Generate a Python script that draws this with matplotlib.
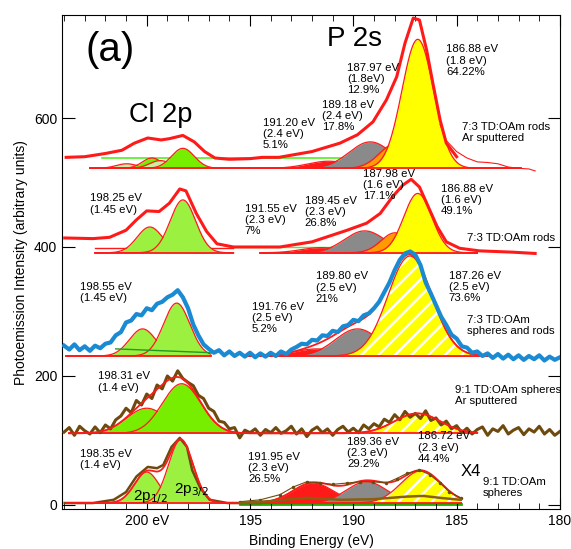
import numpy as np
import matplotlib.pyplot as plt
from matplotlib.ticker import MultipleLocator, FixedLocator

plt.rcParams['font.family'] = ['Liberation Sans', 'DejaVu Sans']
plt.rcParams['hatch.linewidth'] = 1.8

# measured spectra: binding energy (eV) / intensity (arb. units)
# 7:3 TD:OAm rods, Ar sputtered
e_rods_ar = [203.9, 203.0, 202.0, 201.2, 200.6, 199.95, 199.3, 198.9, 198.25, 197.7, 197.2,
             196.7, 196.0, 195.0, 194.4, 193.6, 192.0, 190.65, 189.8, 189.05, 188.4, 187.9,
             187.5, 187.1, 186.8, 186.45, 186.15, 185.8, 185.5, 185.0]
i_rods_ar = [539, 540, 545, 550, 561, 569, 566, 568, 573, 563, 548,
             538, 536, 537, 539, 539, 548, 561, 574, 594, 628, 664,
             716, 755, 752, 705, 654, 597, 561, 540]
e_rods_ar_tail = [185.8, 185.5, 185.0, 184.5, 184.0, 183.5, 183.0, 182.5, 182.0, 181.5, 181.2]
i_rods_ar_tail = [590, 565, 548, 538, 532, 531, 529, 524, 522, 521, 518]

# 7:3 TD:OAm rods
e_rods = [203.97, 202.6, 201.8, 201.0, 200.5, 200.0, 199.4, 198.9, 198.4, 198.1, 197.6, 197.1,
          196.6, 195.8, 194.5, 193.55, 192.0, 190.3, 189.35, 188.7, 188.1, 187.6, 187.2, 186.8,
          186.45, 185.95, 185.5, 184.85, 183.9, 182.3, 181.2]
i_rods = [414, 413, 415, 426, 442, 456, 455, 468, 490, 487, 452, 424,
          405, 400, 400, 400, 408, 426, 437, 452, 478, 496, 505, 493,
          468, 432, 408, 398, 394, 392, 390]

# the two noisy spectra are read every 0.25 eV from 204 down to 180 eV
e_grid = np.arange(204.0, 179.99, -0.25)

# 7:3 TD:OAm spheres and rods
i_mix = [247, 241, 249, 240, 246, 239, 247, 243, 250, 252, 263, 268, 283, 286, 296, 294,
         305, 302, 312, 315, 322, 326, 333, 322, 305, 280, 263, 249, 242, 236, 240, 232,
         238, 231, 236, 230, 236, 229, 235, 230, 236, 231, 238, 234, 241, 245, 250, 249,
         256, 255, 263, 262, 270, 268, 277, 279, 287, 285, 294, 297, 305, 315, 330, 345,
         364, 380, 390, 393, 388, 372, 345, 328, 310, 292, 279, 264, 258, 246, 244, 236,
         238, 231, 235, 228, 234, 227, 233, 226, 232, 225, 231, 226, 232, 224, 230, 225,
         229]

# 9:1 TD:OAm spheres, Ar sputtered
i_sph_ar = [113, 120, 108, 122, 115, 110, 121, 112, 124, 118, 132, 138, 150, 143, 162, 155,
            172, 165, 186, 180, 200, 192, 208, 196, 190, 185, 170, 165, 150, 145, 130, 128,
            118, 120, 104, 116, 112, 118, 108, 117, 112, 120, 111, 115, 122, 110, 118, 106,
            116, 121, 112, 118, 108, 117, 122, 113, 119, 112, 124, 118, 126, 121, 133, 128,
            140, 132, 145, 136, 142, 134, 146, 131, 135, 124, 130, 118, 123, 112, 119, 110,
            117, 121, 108, 118, 114, 123, 110, 116, 120, 109, 118, 113, 122, 110, 117, 108,
            114]

# 9:1 TD:OAm spheres (Cl 2p, and P 2s shown x4 and x1)
e_sph_cl = [203.97, 202.6, 201.6, 201.0, 200.5, 199.95, 199.5, 199.2, 198.8, 198.4, 198.05,
            197.8, 197.4, 196.95, 196.1, 194.5]
i_sph_cl = [3, 3, 8, 20, 44, 59, 57, 62, 90, 104, 90, 54, 26, 8, 3, 3]
e_sph_p = [195.5, 194.5, 193.55, 192.9, 192.25, 191.6, 191.0, 190.3, 189.7, 189.05, 188.4,
           187.9, 187.4, 186.8, 186.3, 185.8, 185.35, 184.8]
i_sph_p = [5, 8, 16, 28, 36, 34, 32, 34, 36, 36, 34, 41, 49, 54, 47, 34, 20, 11]
e_sph_p1 = [195.5, 194.0, 192.25, 190.6, 189.0, 187.4, 186.6, 185.8, 184.8]
i_sph_p1 = [3, 6, 11, 8, 9, 13, 14, 11, 8]

# fitted components: centre (eV), fwhm (eV), height above fit baseline
base_rods_ar, base_rods, base_mix, base_sph_ar, base_sph = 522, 391, 231, 111, 3

cl_rods_ar_c = [200.97, 199.75, 199.35, 198.25]
cl_rods_ar_w = [1.2, 1.1, 1.2, 1.3]
cl_rods_ar_h = [7, 16, 12, 31]
p_rods_ar_c = [191.20, 189.18, 187.97, 186.88]
p_rods_ar_w = [2.4, 2.4, 1.8, 1.8]
p_rods_ar_h = [11, 41, 38, 200]

cl_rods_c = [199.85, 198.25]
cl_rods_w = [1.45, 1.45]
cl_rods_h = [40, 82]
p_rods_c = [191.55, 189.45, 187.98, 186.88]
p_rods_w = [2.3, 2.3, 1.6, 1.6]
p_rods_h = [8, 34, 31, 92]

cl_mix_c = [200.2, 198.55]
cl_mix_w = [1.5, 1.5]
cl_mix_h = [42, 82]
p_mix_c = [191.76, 189.80, 187.26]
p_mix_w = [2.5, 2.5, 2.5]
p_mix_h = [11, 42, 155]

cl_sph_ar_c = [200.0, 198.31]
cl_sph_ar_w = [2.3, 2.2]
cl_sph_ar_h = [39, 77]
p_sph_ar_c = [186.9]
p_sph_ar_w = [2.6]
p_sph_ar_h = [31]

cl_sph_c = [200.0, 198.35]
cl_sph_w = [1.4, 1.4]
cl_sph_h = [48, 98]
p_sph_c = [191.95, 189.36, 186.72]
p_sph_w = [2.3, 2.3, 2.3]
p_sph_h = [31, 33, 50]

RED = '#ff1a1a'
GREEN = '#9cf040'
DGREEN = '#77ee00'
LGREEN = '#c8f0a0'
YEL = '#ffff00'
ORA = '#ff9a00'
GRAY = '#8a8a8a'
BROWN = '#6e4a0e'
BLUE = '#1a8ad2'


def peak(x, c, w, h):
    return h * np.exp(-4 * np.log(2) * (x - c) ** 2 / w ** 2)


def draw_fit(ax, lo, hi, base, cs, ws, hs, cols, envelope=False, z0=2.0):
    x = np.linspace(lo, hi, 500)
    tot = np.zeros_like(x)
    for k, (c, w, h, col) in enumerate(zip(cs, ws, hs, cols)):
        y = base + peak(x, c, w, h)
        tot += peak(x, c, w, h)
        z = z0 + 0.01 * k
        if col == 'hatch':
            ax.fill_between(x, base, y, facecolor=YEL, edgecolor='white', hatch='//', lw=0, zorder=z)
        else:
            ax.fill_between(x, base, y, color=col, lw=0, zorder=z)
        ax.plot(x, y, color=RED, lw=0.9, zorder=z)
    ax.plot([lo, hi], [base, base], color=RED, lw=1.3, zorder=z0 + 0.1)
    if envelope:
        ax.plot(x, base + tot, color=RED, lw=1.3, zorder=6)


fig = plt.figure(figsize=(5.71, 5.49), dpi=100)
ax = fig.add_axes([0.1086, 0.072, 0.872, 0.901])

# top: rods, Ar sputtered
ax.plot([202.15, 187.9], [538, 538], color='#55ee22', lw=1.2, zorder=1.5)
draw_fit(ax, 202.75, 195.0, base_rods_ar, cl_rods_ar_c, cl_rods_ar_w, cl_rods_ar_h,
         [LGREEN, DGREEN, LGREEN, DGREEN])
draw_fit(ax, 195.0, 181.9, base_rods_ar, p_rods_ar_c, p_rods_ar_w, p_rods_ar_h,
         [RED, GRAY, ORA, YEL])
ax.plot(e_rods_ar, i_rods_ar, color=RED, lw=2.2, zorder=5)
ax.plot(e_rods_ar_tail, i_rods_ar_tail, color=RED, lw=0.8, zorder=5)

# rods
ax.plot([196.0, 185.5], [400, 400], color='#55ee22', lw=1.0, zorder=1.5)
ax.plot([202.5, 195.8], [398, 398], color=RED, lw=1.0, zorder=2)
draw_fit(ax, 202.5, 195.8, base_rods, cl_rods_c, cl_rods_w, cl_rods_h, [GREEN, GREEN])
draw_fit(ax, 194.5, 184.0, base_rods, p_rods_c, p_rods_w, p_rods_h, [RED, GRAY, ORA, YEL])
ax.plot(e_rods, i_rods, color=RED, lw=2.2, zorder=5)

# spheres and rods
draw_fit(ax, 203.9, 196.9, base_mix, cl_mix_c, cl_mix_w, cl_mix_h, [GREEN, GREEN])
ax.plot([201.5, 196.8], [242, 236], color='#229922', lw=1.0, zorder=3)
draw_fit(ax, 195.2, 183.5, base_mix, p_mix_c, p_mix_w, p_mix_h, [RED, GRAY, 'hatch'],
         envelope=True)
ax.plot(e_grid, i_mix, color=BLUE, lw=3.0, zorder=7)

# spheres, Ar sputtered
ax.plot(e_grid, i_sph_ar, color=BROWN, lw=2.2, zorder=5)
draw_fit(ax, 203.75, 193.0, base_sph_ar, cl_sph_ar_c, cl_sph_ar_w, cl_sph_ar_h, [DGREEN, DGREEN],
         envelope=True)
draw_fit(ax, 193.0, 184.0, base_sph_ar, p_sph_ar_c, p_sph_ar_w, p_sph_ar_h, ['hatch'],
         envelope=True)

# spheres
ax.plot([195.5, 184.8], [1, 1], color='#22aa00', lw=2.0, zorder=1.5)
draw_fit(ax, 203.9, 194.5, base_sph, cl_sph_c, cl_sph_w, cl_sph_h, [GREEN, GREEN], envelope=True)
draw_fit(ax, 195.5, 184.8, base_sph, p_sph_c, p_sph_w, p_sph_h, [RED, GRAY, 'hatch'],
         envelope=True)
ax.plot(e_sph_cl, i_sph_cl, color=BROWN, lw=1.8, zorder=5)
ax.plot(e_sph_p, i_sph_p, color=BROWN, lw=0.8, marker='.', ms=3, zorder=7)
ax.plot(e_sph_p1, i_sph_p1, color='#8a6010', lw=1.8, zorder=7)

# labels
fs = 8.2
def lab(x, y, s, **kw):
    ax.text(x, y, s, fontsize=kw.pop('size', fs), ha='left', va='top', linespacing=1.15,
            zorder=10, **kw)

lab(202.95, 735, '(a)', size=29)
lab(191.25, 742, 'P 2s', size=20)
lab(200.85, 625, 'Cl 2p', size=19.5)

lab(194.38, 600, '191.20 eV\n(2.4 eV)\n5.1%')
lab(191.53, 628, '189.18 eV\n(2.4 eV)\n17.8%')
lab(190.31, 686, '187.97 eV\n(1.8eV)\n12.9%')
lab(185.52, 714, '186.88 eV\n(1.8 eV)\n64.22%')
lab(184.75, 594, '7:3 TD:OAm rods\nAr sputtered')

lab(202.76, 483, '198.25 eV\n(1.45 eV)')
lab(195.25, 467, '191.55 eV\n(2.3 eV)\n7%')
lab(192.35, 479, '189.45 eV\n(2.3 eV)\n26.8%')
lab(189.54, 521, '187.98 eV\n(1.6 eV)\n17.1%')
lab(185.76, 498, '186.88 eV\n(1.6 eV)\n49.1%')
lab(184.5, 422, '7:3 TD:OAm rods')

lab(203.24, 346, '198.55 eV\n(1.45 eV)')
lab(194.92, 315, '191.76 eV\n(2.5 eV)\n5.2%')
lab(191.82, 362, '189.80 eV\n(2.5 eV)\n21%')
lab(185.38, 363, '187.26 eV\n(2.5 eV)\n73.6%')
lab(184.5, 295, '7:3 TD:OAm\nspheres and rods')

lab(202.37, 207, '198.31 eV\n(1.4 eV)')
lab(185.08, 186, '9:1 TD:OAm spheres\nAr sputtered')

lab(203.24, 87, '198.35 eV\n(1.4 eV)')
lab(195.1, 82, '191.95 eV\n(2.3 eV)\n26.5%')
lab(190.31, 106, '189.36 eV\n(2.3 eV)\n29.2%')
lab(186.88, 114, '186.72 eV\n(2.3 eV)\n44.4%')
lab(184.79, 64, 'X4', size=12)
lab(183.73, 44, '9:1 TD:OAm\nspheres')
ax.text(199.8, 12, '2p$_{1/2}$', fontsize=11, ha='center', va='center', zorder=10)
ax.text(197.85, 23, '2p$_{3/2}$', fontsize=11, ha='center', va='center', zorder=10)

ax.set_xlim(204.1, 180)
ax.set_ylim(-7, 760)
ax.xaxis.set_major_locator(FixedLocator([200, 195, 190, 185, 180]))
ax.set_xticklabels(['200 eV', '195', '190', '185', '180'])
ax.xaxis.set_minor_locator(MultipleLocator(1))
ax.yaxis.set_major_locator(FixedLocator([0, 200, 400, 600]))
ax.tick_params(axis='both', which='both', direction='in', top=True, right=True, labelsize=10)
ax.tick_params(axis='x', which='major', length=8)
ax.tick_params(axis='x', which='minor', length=4)
ax.tick_params(axis='y', which='major', length=9)
ax.set_xlabel('Binding Energy (eV)', fontsize=10)
ax.set_ylabel('Photoemission Intensity (arbitrary units)', fontsize=10)

fig.savefig('out.png', dpi=100)
